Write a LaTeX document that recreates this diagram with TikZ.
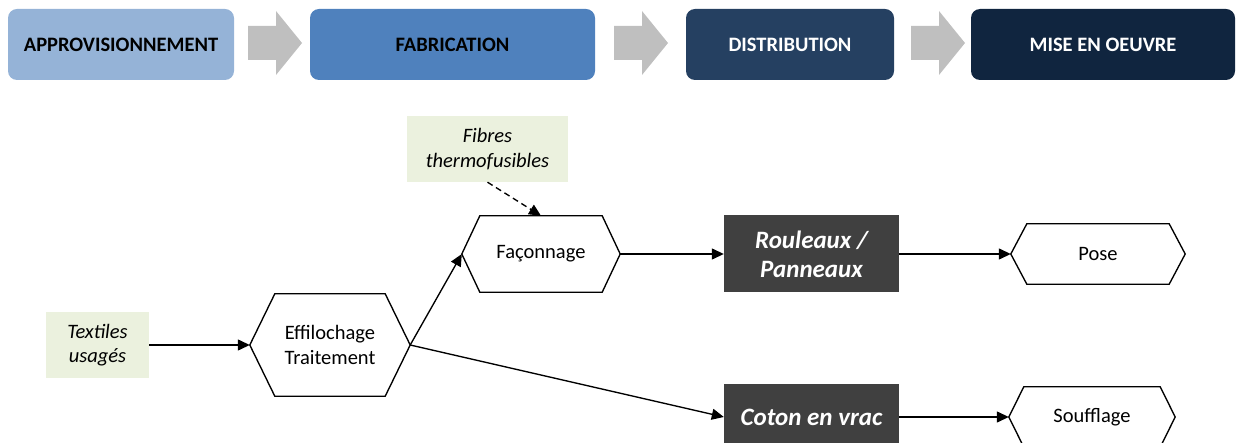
\documentclass[tikz,border=0pt]{standalone}
\usepackage{fontspec}
\setmainfont{Carlito}
\usetikzlibrary{arrows.meta,calc}

\definecolor{phaseA}{HTML}{95B3D7}
\definecolor{phaseB}{HTML}{4F81BD}
\definecolor{phaseC}{HTML}{254061}
\definecolor{phaseD}{HTML}{10253F}
\definecolor{chevron}{HTML}{BFBFBF}
\definecolor{inputfill}{HTML}{EBF1DE}
\definecolor{productfill}{HTML}{404040}

% outline of a flattened hexagon around a text node
\newcommand\hexoutline[2]{%
  \draw[flowline] (#1.west) -- ($(#1.north west)+(#2,0)$) -- ($(#1.north east)+(-#2,0)$)
    -- (#1.east) -- ($(#1.south east)+(-#2,0)$) -- ($(#1.south west)+(#2,0)$) -- cycle;}

% grey block arrow between two phase boxes
\newcommand\phasechevron[1]{%
  \fill[chevron] (#1,26) -- (#1+28,26) -- (#1+28,11) -- (#1+54,43) -- (#1+28,75)
    -- (#1+28,60) -- (#1,60) -- cycle;}

\begin{document}
\begin{tikzpicture}[x=1pt,y=-1pt,
  phase/.style={rounded corners=9pt, minimum height=71, inner sep=0pt,
    font=\fontsize{20.5}{24}\selectfont\bfseries},
  flowline/.style={line width=1.35pt, black, line join=miter},
  link/.style={flowline, -{Triangle[length=12pt,width=11pt]}},
  inputbox/.style={fill=inputfill, inner sep=0pt, align=center,
    font=\fontsize{20.5}{24.5}\selectfont\itshape},
  productbox/.style={fill=productfill, text=white, inner sep=0pt, align=center,
    minimum width=175, font=\fontsize{25}{29}\selectfont\bfseries\itshape},
  stepnode/.style={inner sep=0pt, align=center,
    font=\fontsize{20.5}{25}\selectfont}]
\useasboundingbox (0,0) rectangle (1239,443);

% phase banner
\node[phase, fill=phaseA, minimum width=226] (appro) at (121,44.5) {APPROVISIONNEMENT};
\node[phase, fill=phaseB, minimum width=285] (fab) at (452.5,44.5) {FABRICATION};
\node[phase, fill=phaseC, text=white, minimum width=208] (distr) at (790,44.5) {DISTRIBUTION};
\node[phase, fill=phaseD, text=white, minimum width=264] (oeuvre) at (1103,44.5) {MISE EN OEUVRE};
\phasechevron{248}
\phasechevron{614}
\phasechevron{911}

% inputs
\node[inputbox, minimum width=103, minimum height=66] (textiles) at (97.5,345) {Textiles\\usagés};
\node[inputbox, minimum width=161, minimum height=66] (fibres) at (487.5,149) {Fibres\\thermofusibles};

% process steps
\node[stepnode, minimum width=160, minimum height=102] (effi) at (330,345) {Effilochage\\Traitement};
\hexoutline{effi}{25}
\node[stepnode, minimum width=158, minimum height=76] (facon) at (541,254) {Façonnage};
\hexoutline{facon}{18}
\node[stepnode, minimum width=174, minimum height=60] (pose) at (1098,254) {Pose};
\hexoutline{pose}{16}
\node[stepnode, minimum width=166, minimum height=60] (souff) at (1092,417) {Soufflage};
\hexoutline{souff}{15}

% products
\node[productbox, minimum height=77] (rouleaux) at (811.5,254) {Rouleaux /\\Panneaux};
\node[productbox, minimum height=66] (coton) at (811.5,417) {Coton en vrac};

% flows
\draw[link] (textiles.east) -- (effi.west);
\draw[link] (effi.east) -- (facon.west);
\draw[link] (effi.east) -- (coton.west);
\draw[link, dash pattern=on 6pt off 4pt] (fibres.south) -- (facon.north);
\draw[link] (facon.east) -- (rouleaux.west);
\draw[link] (rouleaux.east) -- (pose.west);
\draw[link] (coton.east) -- (souff.west);
\end{tikzpicture}
\end{document}
